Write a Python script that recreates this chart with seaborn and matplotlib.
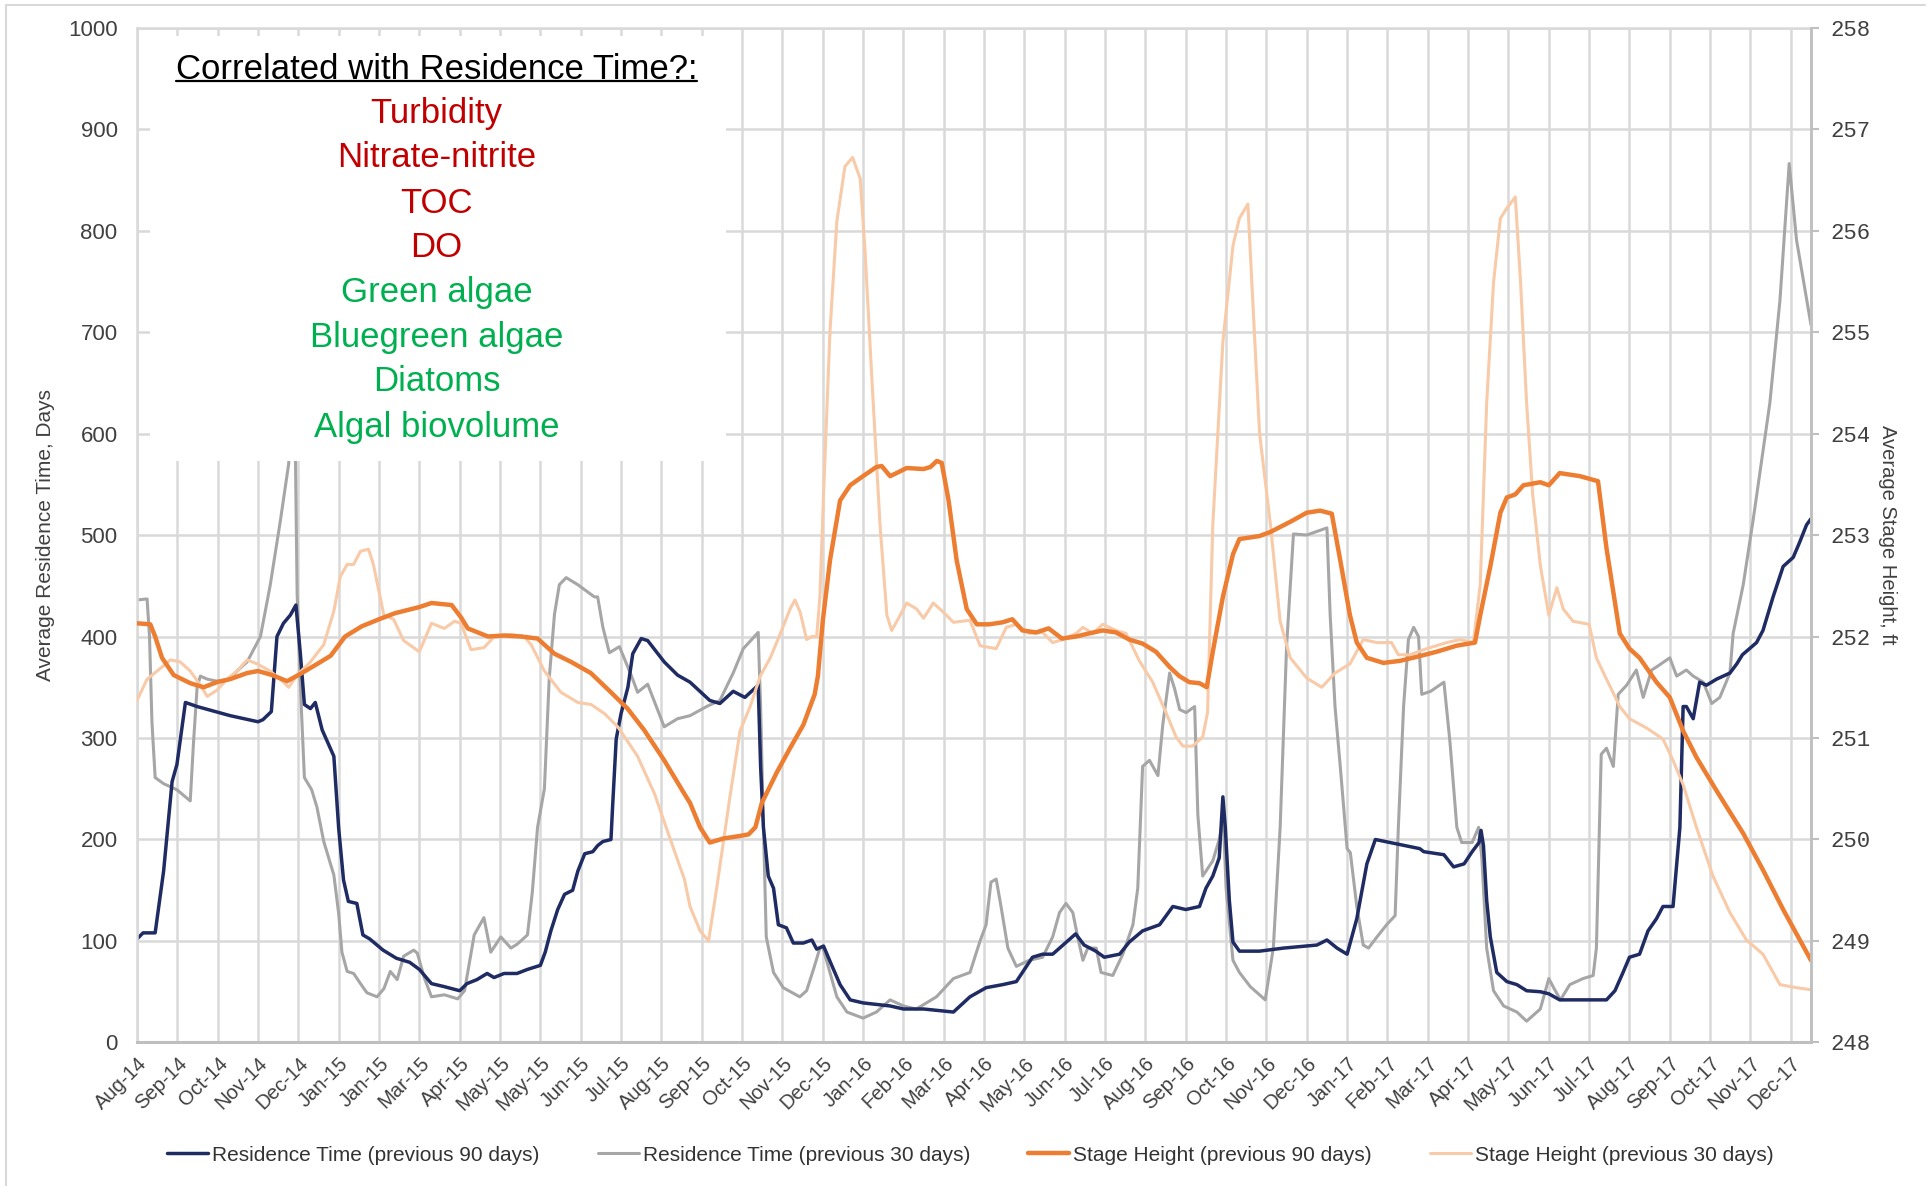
import matplotlib
matplotlib.use("Agg")
import matplotlib.pyplot as plt
import seaborn as sns
import pandas as pd
from matplotlib import font_manager
from matplotlib.lines import Line2D
from matplotlib.patches import Rectangle

# ---------------- data ----------------
# x positions are in units of the axis tick interval (30 days), 0 = Aug-14 tick
tick_labels = ["Aug-14", "Sep-14", "Oct-14", "Nov-14", "Dec-14",
               "Jan-15", "Jan-15", "Mar-15", "Apr-15", "May-15", "May-15", "Jun-15", "Jul-15",
               "Aug-15", "Sep-15", "Oct-15", "Nov-15", "Dec-15",
               "Jan-16", "Feb-16", "Mar-16", "Apr-16", "May-16", "Jun-16", "Jul-16", "Aug-16",
               "Sep-16", "Oct-16", "Nov-16", "Dec-16",
               "Jan-17", "Feb-17", "Mar-17", "Apr-17", "May-17", "Jun-17", "Jul-17", "Aug-17",
               "Sep-17", "Oct-17", "Nov-17", "Dec-17"]

rt90_x = [0, 0.15, 0.45, 0.66, 0.87, 0.99, 1.2, 1.49, 2.31, 3.0, 3.12, 3.33, 3.47, 3.63, 3.8, 3.94,
          4.05, 4.15, 4.3, 4.42, 4.59, 4.88, 5.0, 5.12, 5.24, 5.45, 5.6, 5.77, 6.1, 6.43, 6.76, 7.0,
          7.3, 7.62, 8.0, 8.18, 8.43, 8.68, 8.85, 9.1, 9.42, 9.68, 10.0, 10.12, 10.26, 10.43, 10.6,
          10.8, 10.93, 11.1, 11.3, 11.42, 11.55, 11.75, 11.79, 11.88, 12.0, 12.17, 12.29, 12.5,
          12.66, 13.07, 13.4, 13.71, 14.2, 14.45, 14.78, 15.07, 15.4, 15.46, 15.53, 15.65, 15.78,
          15.9, 16.1, 16.27, 16.52, 16.73, 16.85, 17.02, 17.18, 17.43, 17.68, 18.0, 18.67, 19.0,
          19.5, 20.24, 20.65, 21.05, 21.46, 21.8, 22.2, 22.45, 22.7, 23.1, 23.27, 23.48, 23.77,
          23.98, 24.36, 24.6, 24.93, 25.35, 25.68, 26.0, 26.34, 26.5, 26.67, 26.83, 26.92, 26.98,
          27.08, 27.17, 27.33, 27.83, 28.42, 29.25, 29.5, 29.75, 30.0, 30.24, 30.49, 30.7, 31.07,
          31.8, 31.9, 32.4, 32.64, 32.9, 33.1, 33.27, 33.32, 33.38, 33.46, 33.55, 33.71, 33.96,
          34.21, 34.45, 34.79, 35.0, 35.27, 36.43, 36.64, 36.84, 37.0, 37.25, 37.46, 37.67, 37.83,
          38.08, 38.25, 38.33, 38.41, 38.58, 38.74, 38.91, 39.16, 39.49, 39.66, 39.8, 40.15,
          40.31, 40.56, 40.81, 41.06, 41.22, 41.39, 41.5]
rt90_y = [102, 108, 108, 169, 257, 274, 335, 331, 322, 316, 318, 326, 400, 413, 421, 431,
          383, 333, 329, 335, 308, 282, 211, 160, 139, 137, 106, 102, 91, 83, 79, 72,
          58, 55, 51, 58, 62, 68, 64, 68, 68, 72, 76, 89, 110, 131, 146,
          150, 169, 186, 188, 194, 198, 200, 232, 299, 324, 350, 383, 398,
          396, 375, 362, 355, 337, 334, 346, 340, 352, 272, 212, 164, 152,
          116, 113, 98, 98, 101, 92, 95, 80, 57, 42, 39, 36, 33,
          33, 30, 45, 54, 57, 60, 84, 87, 87, 101, 107, 96, 90,
          84, 87, 99, 110, 116, 134, 131, 134, 152, 164, 182, 242, 212,
          140, 99, 90, 90, 93, 96, 101, 93, 87, 122, 176, 200, 197,
          191, 188, 185, 173, 176, 188, 197, 209, 194, 140, 104, 69, 60,
          57, 51, 50, 48, 42, 42, 51, 69, 84, 87, 110, 122, 134,
          134, 212, 331, 331, 319, 355, 352, 358, 364, 373, 382, 394,
          406, 439, 469, 478, 493, 510, 516]

rt30_x = [0, 0.25, 0.31, 0.37, 0.45, 0.66, 0.99, 1.32, 1.4, 1.49, 1.57, 1.74, 1.98, 2.31, 2.48,
          2.73, 3.06, 3.3, 3.55, 3.76, 3.86, 3.93, 3.97, 4.07, 4.15, 4.33, 4.46, 4.63, 4.88, 5.0,
          5.08, 5.21, 5.37, 5.54, 5.7, 5.95, 6.12, 6.28, 6.45, 6.61, 6.86, 6.95, 7.12, 7.3, 7.62,
          7.95, 8.12, 8.36, 8.6, 8.77, 9.02, 9.27, 9.43, 9.68, 9.8, 9.93, 10.1, 10.22, 10.35,
          10.47, 10.64, 10.93, 11.34, 11.42, 11.55, 11.71, 11.96, 12.25, 12.41, 12.66, 13.07,
          13.4, 13.71, 14.12, 14.45, 14.78, 15.03, 15.4, 15.46, 15.53, 15.6, 15.78, 16.02, 16.43,
          16.6, 16.77, 16.93, 17.0, 17.18, 17.35, 17.6, 18.0, 18.33, 18.67, 19.0, 19.32, 19.82,
          20.24, 20.65, 20.9, 21.05, 21.17, 21.3, 21.42, 21.59, 21.8, 22.12, 22.45, 22.7, 22.87,
          23.03, 23.2, 23.32, 23.45, 23.57, 23.78, 23.9, 24.19, 24.44, 24.69, 24.81, 24.93, 25.1,
          25.31, 25.43, 25.6, 25.72, 25.85, 26.01, 26.22, 26.3, 26.42, 26.67, 26.83, 26.93, 27.0,
          27.17, 27.33, 27.6, 27.97, 28.17, 28.34, 28.5, 28.67, 29.0, 29.5, 29.58, 29.7, 29.83,
          30.0, 30.08, 30.24, 30.4, 30.53, 30.74, 30.98, 31.19, 31.27, 31.4, 31.52, 31.65, 31.77,
          31.85, 32.07, 32.4, 32.55, 32.72, 32.84, 33.1, 33.26, 33.34, 33.46, 33.63, 33.88, 34.21,
          34.45, 34.79, 35.0, 35.12, 35.29, 35.52, 35.85, 36.1, 36.18, 36.3, 36.43, 36.6, 36.72,
          36.93, 37.17, 37.34, 37.55, 37.67, 38.0, 38.17, 38.41, 38.58, 38.83, 39.04, 39.24,
          39.49, 39.57, 39.82, 40.07, 40.48, 40.73, 40.96, 41.14, 41.5]
rt30_y = [436, 437, 400, 316, 261, 255, 249, 238, 295, 350, 361, 358, 356, 358, 366,
          375, 400, 450, 513, 570, 650, 570, 442, 333, 261, 249, 232, 198, 165, 127,
          89, 70, 68, 58, 49, 45, 53, 70, 62, 85, 91, 88, 64, 45, 47,
          43, 51, 106, 123, 89, 104, 93, 97, 106, 148, 212, 250, 359, 422,
          451, 458, 451, 439, 439, 409, 384, 390, 362, 345, 353, 311,
          319, 322, 331, 337, 364, 388, 404, 331, 212, 104, 69, 54, 45,
          51, 72, 93, 94, 69, 45, 30, 24, 30, 42, 36, 33, 45,
          63, 69, 100, 116, 158, 161, 134, 93, 75, 81, 84, 104, 128,
          137, 128, 104, 81, 93, 93, 69, 66, 87, 116, 152, 272, 278,
          263, 313, 364, 349, 328, 325, 331, 224, 164, 179, 200, 221, 152,
          81, 69, 55, 42, 93, 212, 391, 501, 500, 507, 421, 331, 272,
          191, 187, 134, 96, 93, 104, 116, 125, 212, 331, 397, 409, 400,
          343, 346, 355, 296, 212, 197, 197, 212, 182, 93, 51, 36, 30,
          21, 33, 63, 54, 42, 57, 63, 66, 93, 284, 290, 272, 343,
          352, 367, 340, 367, 370, 379, 361, 367, 361, 355, 334, 340,
          364, 403, 451, 516, 630, 731, 866, 791, 707]

sh90_x = [0, 0.33, 0.45, 0.62, 0.91, 1.32, 1.65, 1.98, 2.31, 2.73, 3.0, 3.35, 3.72, 4.0, 4.47,
          4.8, 5.16, 5.57, 6.0, 6.4, 7.0, 7.3, 7.8, 8.03, 8.2, 8.45, 8.7, 9.1, 9.52, 9.93, 10.35,
          10.76, 11.25, 11.75, 12.16, 12.57, 13.07, 13.57, 13.71, 13.96, 14.2, 14.54, 14.87, 15.16,
          15.33, 15.49, 15.86, 16.19, 16.52, 16.8, 16.88, 17.0, 17.18, 17.43, 17.68, 18.0, 18.33,
          18.46, 18.67, 18.83, 19.08, 19.5, 19.67, 19.83, 19.95, 20.12, 20.32, 20.57, 20.82, 21.13,
          21.46, 21.7, 21.95, 22.29, 22.6, 22.93, 23.28, 23.6, 23.94, 24.27, 24.6, 24.93, 25.26,
          25.6, 25.84, 26.09, 26.34, 26.52, 26.67, 26.92, 27.17, 27.33, 27.83, 28.1, 28.59, 29.0,
          29.33, 29.62, 29.83, 30.07, 30.24, 30.49, 30.9, 31.31, 31.73, 32.22, 32.72, 33.17, 33.3,
          33.55, 33.8, 33.96, 34.17, 34.37, 34.79, 35.0, 35.27, 35.77, 36.22, 36.43, 36.76, 37.0,
          37.25, 37.67, 38.0, 38.33, 38.66, 39.16, 39.82, 40.31, 40.81, 41.14, 41.5]
sh90_y = [252.13, 252.12, 252.00, 251.79, 251.62, 251.54, 251.50, 251.55, 251.58, 251.64, 251.66,
          251.62, 251.56, 251.62, 251.73, 251.81, 252.00, 252.10, 252.17, 252.23, 252.29, 252.33,
          252.31, 252.19, 252.08, 252.04, 252.00, 252.01, 252.00, 251.98, 251.83, 251.75, 251.64,
          251.45, 251.29, 251.08, 250.78, 250.45, 250.36, 250.12, 249.97, 250.01, 250.03, 250.05,
          250.12, 250.36, 250.66, 250.90, 251.13, 251.43, 251.61, 252.15, 252.75, 253.34, 253.49,
          253.58, 253.67, 253.68, 253.58, 253.61, 253.66, 253.65, 253.67, 253.73, 253.71, 253.34,
          252.75, 252.27, 252.12, 252.12, 252.14, 252.17, 252.06, 252.04, 252.08, 251.98, 252.00,
          252.03, 252.06, 252.04, 251.97, 251.93, 251.85, 251.70, 251.61, 251.55, 251.54, 251.50,
          251.85, 252.39, 252.81, 252.96, 252.99, 253.03, 253.13, 253.22, 253.24, 253.21, 252.75,
          252.21, 251.94, 251.79, 251.74, 251.76, 251.80, 251.85, 251.91, 251.94, 252.21, 252.69,
          253.22, 253.37, 253.40, 253.49, 253.52, 253.49, 253.61, 253.58, 253.53, 252.87, 252.03,
          251.88, 251.79, 251.55, 251.40, 251.07, 250.81, 250.48, 250.06, 249.70, 249.31, 249.07,
          248.81]

sh30_x = [0, 0.25, 0.5, 0.83, 1.07, 1.32, 1.57, 1.74, 1.98, 2.23, 2.48, 2.73, 2.98, 3.3, 3.55,
          3.76, 3.97, 4.3, 4.63, 4.88, 5.04, 5.21, 5.37, 5.54, 5.74, 5.86, 6.12, 6.36, 6.61, 6.86,
          7.0, 7.3, 7.62, 7.87, 8.03, 8.28, 8.6, 8.86, 9.27, 9.6, 9.77, 10.1, 10.51, 10.93, 11.26,
          11.59, 11.92, 12.41, 12.83, 13.24, 13.57, 13.71, 13.96, 14.17, 14.37, 14.7, 14.95, 15.2,
          15.45, 15.7, 15.95, 16.19, 16.31, 16.44, 16.6, 16.73, 16.85, 16.93, 17.02, 17.18, 17.35,
          17.55, 17.74, 17.93, 18.05, 18.21, 18.42, 18.59, 18.71, 18.88, 19.08, 19.33, 19.5, 19.74,
          19.99, 20.24, 20.65, 20.9, 21.3, 21.55, 21.8, 22.12, 22.45, 22.7, 22.95, 23.28, 23.45,
          23.7, 23.94, 24.27, 24.52, 24.85, 25.18, 25.51, 25.76, 25.93, 26.17, 26.42, 26.54, 26.67,
          26.92, 27.17, 27.33, 27.54, 27.7, 27.83, 28.1, 28.34, 28.59, 29.0, 29.37, 29.7, 30.07,
          30.4, 30.74, 31.1, 31.27, 31.56, 31.97, 32.47, 32.8, 33.13, 33.3, 33.46, 33.63, 33.8,
          33.96, 34.17, 34.3, 34.45, 34.6, 34.79, 35.0, 35.2, 35.36, 35.6, 36.0, 36.18, 36.43,
          36.76, 37.0, 37.42, 37.83, 38.08, 38.33, 38.66, 39.07, 39.49, 39.9, 40.31, 40.73, 41.14,
          41.5]
sh30_y = [251.37, 251.58, 251.66, 251.77, 251.75, 251.66, 251.52, 251.41, 251.47, 251.58, 251.66,
          251.77, 251.73, 251.66, 251.58, 251.50, 251.62, 251.75, 251.92, 252.25, 252.59, 252.71,
          252.71, 252.84, 252.86, 252.71, 252.21, 252.17, 251.96, 251.89, 251.85, 252.13, 252.08,
          252.15, 252.13, 251.87, 251.89, 252.00, 252.02, 252.00, 251.92, 251.66, 251.45, 251.35,
          251.33, 251.24, 251.11, 250.82, 250.45, 249.98, 249.61, 249.34, 249.10, 249.00, 249.52,
          250.42, 251.07, 251.31, 251.61, 251.79, 252.03, 252.27, 252.36, 252.24, 251.97, 252.00,
          252.00, 252.39, 253.40, 255.01, 256.09, 256.63, 256.72, 256.51, 255.79, 254.60, 253.10,
          252.21, 252.06, 252.18, 252.33, 252.27, 252.18, 252.33, 252.24, 252.14, 252.16, 251.91,
          251.88, 252.09, 252.12, 252.03, 252.04, 251.94, 251.97, 252.03, 252.09, 252.03, 252.12,
          252.06, 252.03, 251.76, 251.55, 251.25, 251.01, 250.92, 250.92, 251.01, 251.25, 253.10,
          254.90, 255.85, 256.12, 256.26, 255.00, 254.00, 253.10, 252.15, 251.79, 251.59, 251.50,
          251.64, 251.73, 251.97, 251.94, 251.94, 251.82, 251.82, 251.88, 251.94, 251.97, 251.94,
          252.51, 254.30, 255.49, 256.12, 256.22, 256.33, 255.49, 254.30, 253.40, 252.70, 252.21,
          252.48, 252.27, 252.15, 252.12, 251.79, 251.58, 251.31, 251.19, 251.10, 250.99, 250.78,
          250.54, 250.12, 249.64, 249.28, 249.01, 248.87, 248.57, 248.54, 248.52]

series_names = ["Residence Time (previous 90 days)", "Residence Time (previous 30 days)",
                "Stage Height (previous 90 days)", "Stage Height (previous 30 days)"]
box_title = "Correlated with Residence Time?:"
box_red = ["Turbidity", "Nitrate-nitrite", "TOC", "DO"]
box_green = ["Green algae", "Bluegreen algae", "Diatoms", "Algal biovolume"]

# ---------------- style ----------------
sns.set_theme(style="white")
names = {f.name for f in font_manager.fontManager.ttflist}
SANS = "Liberation Sans" if "Liberation Sans" in names else "DejaVu Sans"
HAS_NARROW = "Liberation Sans Narrow" in names
NARROW = "Liberation Sans Narrow" if HAS_NARROW else SANS
MONO = "Liberation Mono" if "Liberation Mono" in names else "DejaVu Sans Mono"
plt.rcParams["font.family"] = [SANS, "DejaVu Sans"]

NAVY = "#1f2b63"
GRAY = "#a6a6a6"
ORANGE = "#ed7d31"
PEACH = "#f8caa8"
GRID = "#d9d9d9"
TXT = "#404040"

fig = plt.figure(figsize=(19.31, 11.86), dpi=100)
ax = fig.add_axes([0.07095, 0.121, 0.8669, 0.8558])
ax2 = ax.twinx()

XMAX = 41.5
df_rt90 = pd.DataFrame({"x": rt90_x, "y": rt90_y})
df_rt30 = pd.DataFrame({"x": rt30_x, "y": rt30_y})
df_sh90 = pd.DataFrame({"x": sh90_x, "y": sh90_y})
df_sh30 = pd.DataFrame({"x": sh30_x, "y": sh30_y})

sns.lineplot(data=df_rt30, x="x", y="y", ax=ax, color=GRAY, linewidth=2.2, zorder=2, legend=False)
sns.lineplot(data=df_rt90, x="x", y="y", ax=ax, color=NAVY, linewidth=2.5, zorder=2.1, legend=False)
sns.lineplot(data=df_sh30, x="x", y="y", ax=ax2, color=PEACH, linewidth=2.2, zorder=2, legend=False)
sns.lineplot(data=df_sh90, x="x", y="y", ax=ax2, color=ORANGE, linewidth=3.2, zorder=2.1, legend=False)

ax.set_xlim(0, XMAX)
ax.set_ylim(0, 1000)
ax2.set_ylim(248, 258)
ax.set_xticks(range(len(tick_labels)))
ax.set_xticklabels(tick_labels, rotation=45, ha="right", rotation_mode="anchor",
                   fontsize=14.5, color=TXT, family=[SANS])
ax.set_yticks(range(0, 1001, 100))
ax.set_yticklabels([str(v) for v in range(0, 1001, 100)], fontsize=16, color=TXT, family=[SANS])
ax2.set_yticks(range(248, 259))
ax2.set_yticklabels([str(v) for v in range(248, 259)], fontsize=16, color=TXT, family=[MONO])
ax.tick_params(axis="x", length=0, pad=8)
ax.tick_params(axis="y", length=0, pad=14)
ax2.tick_params(axis="y", length=6, width=1.5, color="#bfbfbf", pad=8, direction="out")
ax.set_xlabel("")
ax.set_ylabel("")
ax2.set_ylabel("")

ax.grid(True, color=GRID, linewidth=1.8)
ax.set_axisbelow(True)
ax2.grid(False)
for s in ["left", "top", "right"]:
    ax.spines[s].set_color(GRID)
    ax.spines[s].set_linewidth(1.8)
ax.spines["bottom"].set_color("#bfbfbf")
ax.spines["bottom"].set_linewidth(2.2)
for s in ["left", "top", "bottom"]:
    ax2.spines[s].set_visible(False)
ax2.spines["right"].set_color("#bfbfbf")
ax2.spines["right"].set_linewidth(2.0)

# white annotation box covering the grid / lines
ax.add_patch(Rectangle((0.008, 0.573), 0.344, 0.419, transform=ax.transAxes,
                       facecolor="white", edgecolor="none", zorder=5))
cx = 0.179
title_txt = ax.text(cx, 0.959, box_title, transform=ax.transAxes, ha="center", va="center",
                    fontsize=25, color="black", family=[SANS], zorder=6)
ys = [0.9155, 0.8719, 0.827, 0.7834, 0.7386, 0.6948, 0.651, 0.6062]
for t, y in zip(box_red + box_green, ys):
    col = "#c00000" if t in box_red else "#00b050"
    ax.text(cx, y, t, transform=ax.transAxes, ha="center", va="center",
            fontsize=25, color=col, family=[SANS], zorder=6)

# axis titles
fig.text(46 / 1931, 0.549, "Average Residence Time, Days", rotation=90, ha="center", va="center",
         fontsize=15, color=TXT, family=[SANS])
if HAS_NARROW:
    fig.text(1888 / 1931, 0.549, "Average Stage Height, ft", rotation=-90, ha="center", va="center",
             fontsize=17.5, color=TXT, family=[NARROW])
else:
    fig.text(1888 / 1931, 0.549, "Average Stage Height, ft", rotation=-90, ha="center", va="center",
             fontsize=14.5, color=TXT, family=[SANS])

# legend
handles = [Line2D([], [], color=NAVY, lw=2.5), Line2D([], [], color=GRAY, lw=2.2),
           Line2D([], [], color=ORANGE, lw=3.2), Line2D([], [], color=PEACH, lw=2.2)]
leg_size = 18 if HAS_NARROW else 15
fig.legend(handles, series_names, loc="center", bbox_to_anchor=(0.5025, 0.026), ncol=4,
           frameon=False, handlelength=1.85 * 16 / leg_size, handletextpad=0.2,
           columnspacing=2.6 * 16 / leg_size,
           prop={"family": [NARROW], "size": leg_size}, labelcolor="#333333")

# outer frame lines (top & left)
fig.add_artist(Line2D([6 / 1931, 1925 / 1931], [1 - 5 / 1186, 1 - 5 / 1186],
                      transform=fig.transFigure, color=GRID, lw=1.5))
fig.add_artist(Line2D([6 / 1931, 6 / 1931], [0, 1 - 5 / 1186],
                      transform=fig.transFigure, color=GRID, lw=1.5))

# underline the box title
fig.canvas.draw()
bb = title_txt.get_window_extent(renderer=fig.canvas.get_renderer())
inv = fig.transFigure.inverted()
(x0, y0), (x1, _) = inv.transform([(bb.x0, bb.y0 + 5), (bb.x1, bb.y0 + 5)])
fig.add_artist(Line2D([x0, x1], [y0, y0], transform=fig.transFigure, color="black", lw=1.6, zorder=10))

fig.savefig("out.png", dpi=100)
